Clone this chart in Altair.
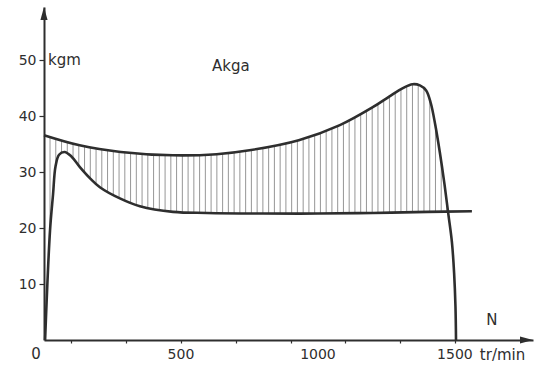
import altair as alt
import numpy as np
import pandas as pd

# Motor torque curve (upper)
motor_n = [0, 130, 280, 470, 630, 750, 930, 1080, 1200, 1260, 1310, 1345, 1372, 1395, 1412, 1428, 1445, 1462, 1476, 1489, 1497, 1502, 1504]
motor_t = [36.6, 34.8, 33.6, 33.0, 33.2, 33.9, 35.7, 38.4, 41.6, 43.5, 45.0, 45.7, 45.5, 44.6, 42.3, 38.5, 33.5, 27.8, 22.5, 17.5, 12.0, 6.0, 0.0]

# Load torque curve (lower)
load_n = [4, 22, 33, 42, 55, 75, 100, 131, 170, 204, 277, 350, 471, 595, 800, 1000, 1200, 1400, 1562]
load_t = [0.0, 19.6, 26.0, 31.0, 33.1, 33.6, 32.8, 30.9, 28.8, 27.3, 25.3, 23.9, 22.9, 22.7, 22.6, 22.6, 22.7, 22.9, 23.0]

y_ticks = [10, 20, 30, 40, 50]
x_ticks = list(range(100, 1600, 100))
x_labels = [500, 1000, 1500]

ann_text = ["kgm", "Akga", "N", "tr/min", "0"]
ann_n = [15, 682, 1635, 1591, -29]
ann_t = [50.0, 48.9, 3.6, -2.7, -2.5]
ann_align = ["left", "center", "center", "left", "center"]

X_MAX = 1785
Y_MAX = 59.5
W = 489
H = 333
FONT = "DejaVu Sans"
INK = "#2e2e2e"

motor = pd.DataFrame({"n": motor_n, "t": motor_t})
load = pd.DataFrame({"n": load_n, "t": load_t})

# hatch lines between the two curves
hn = np.arange(22, 1474, 21)
hu = np.interp(hn, motor_n, motor_t)
hl = np.interp(hn, load_n, load_t)
keep = hu > hl
hatch = pd.DataFrame({"n": hn[keep], "t1": hl[keep], "t2": hu[keep]})

xs = alt.Scale(domain=[0, X_MAX], nice=False, zero=False)
ys = alt.Scale(domain=[0, Y_MAX], nice=False, zero=False)

base_axes = alt.Chart(pd.DataFrame({"n": [0], "t": [0]})).mark_point(opacity=0).encode(
    x=alt.X("n:Q", scale=xs, axis=alt.Axis(
        values=x_ticks, title=None, grid=False, labels=False,
        domainColor=INK, domainWidth=2, tickColor=INK, tickSize=3, tickWidth=1.2)),
    y=alt.Y("t:Q", scale=ys, axis=alt.Axis(
        values=y_ticks, title=None, grid=False, labelOverlap=False,
        domainColor=INK, domainWidth=2, tickColor=INK, tickSize=5, tickWidth=1.2,
        labelFont=FONT, labelFontSize=14, labelColor=INK, labelPadding=3)),
)

xlab = pd.DataFrame({"n": x_labels, "t": [-2.6] * len(x_labels), "text": [str(v) for v in x_labels]})
xlab_layer = alt.Chart(xlab).mark_text(font=FONT, fontSize=14, color=INK, baseline="middle", align="center").encode(
    x=alt.X("n:Q", scale=xs), y=alt.Y("t:Q", scale=ys), text="text:N")

hatch_layer = alt.Chart(hatch).mark_rule(color="#8a8a8a", strokeWidth=0.9).encode(
    x=alt.X("n:Q", scale=xs), y=alt.Y("t1:Q", scale=ys), y2="t2:Q")

motor_layer = alt.Chart(motor).mark_line(color=INK, strokeWidth=2.6, interpolate="catmull-rom").encode(
    x=alt.X("n:Q", scale=xs), y=alt.Y("t:Q", scale=ys))

load_layer = alt.Chart(load).mark_line(color=INK, strokeWidth=2.6, interpolate="catmull-rom").encode(
    x=alt.X("n:Q", scale=xs), y=alt.Y("t:Q", scale=ys))

ann = pd.DataFrame({"text": ann_text, "n": ann_n, "t": ann_t, "align": ann_align})
text_layers = []
for a in ["left", "center"]:
    text_layers.append(
        alt.Chart(ann[ann["align"] == a]).mark_text(font=FONT, fontSize=15, color=INK, baseline="middle", align=a).encode(
            x=alt.X("n:Q", scale=xs), y=alt.Y("t:Q", scale=ys), text="text:N"))

# arrow heads
arr = pd.DataFrame({"n": [0, X_MAX - 6.5 / (W / X_MAX)], "t": [Y_MAX - 6.5 / (H / Y_MAX), 0],
                    "shape": ["M0,-1L0.55,1L-0.55,1Z", "M1,0L-1,-0.55L-1,0.55Z"]})
arrow_layer = alt.Chart(arr).mark_point(filled=True, color=INK, opacity=1, size=169, strokeWidth=0).encode(
    x=alt.X("n:Q", scale=xs), y=alt.Y("t:Q", scale=ys),
    shape=alt.Shape("shape:N", scale=None))

chart = alt.layer(base_axes, hatch_layer, load_layer, motor_layer, arrow_layer, xlab_layer, *text_layers).properties(
    width=W, height=H, autosize="none", background="white",
    padding={"left": 44, "top": 7, "right": 2, "bottom": 25},
).configure_view(stroke=None)

chart.save("out.html", embed_options={"renderer": "svg", "actions": False})
